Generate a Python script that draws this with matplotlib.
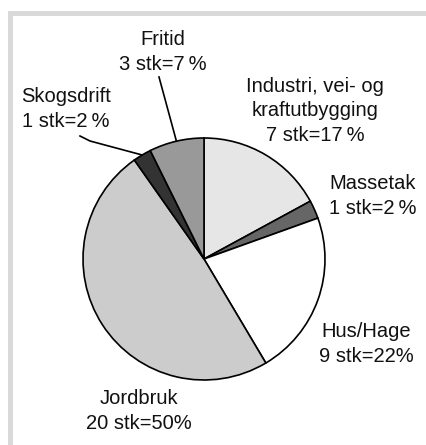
import numpy as np
import matplotlib.pyplot as plt
from matplotlib.patches import Rectangle

plt.rcParams['font.family'] = ['Liberation Sans', 'DejaVu Sans']

# Data: antall (stk) per kategori, i rekkefølge med klokka fra toppen
kategorier = ['Industri, vei- og\nkraftutbygging', 'Massetak', 'Hus/Hage',
              'Jordbruk', 'Skogsdrift', 'Fritid']
antall = [7, 1, 9, 20, 1, 3]
prosent_tekst = ['17\u2009%', '2\u2009%', '22%', '50%', '2\u2009%', '7\u2009%']
farger = ['#e6e6e6', '#666666', '#ffffff', '#cccccc', '#333333', '#999999']

# Figur i pikselkoordinater (427x445)
W, H = 427, 445
fig = plt.figure(figsize=(W / 100, H / 100), dpi=100)
ax = fig.add_axes([0, 0, 1, 1])

senter = (204, H - 259)
radius = 121

wedges, _ = ax.pie(antall, startangle=90, counterclock=False, colors=farger,
                   center=senter, radius=radius,
                   wedgeprops=dict(edgecolor='black', linewidth=1.2))

ax.set_xlim(0, W)
ax.set_ylim(0, H)
ax.set_aspect('equal')
ax.axis('off')

# Grå ramme (topp og venstre)
ramme = '#d9d9d9'
ax.add_patch(Rectangle((8, H - 16), W - 8, 5, color=ramme, lw=0, zorder=0))
ax.add_patch(Rectangle((8, 0), 5, H - 11, color=ramme, lw=0, zorder=0))

# Etikettposisjoner (sentrum av tekstblokk, piksler fra topp)
etikett_pos = [(315, 111), (373, 196), (366, 344), (139, 411), (66, 109), (163, 52)]

for kat, n, p, (x, y) in zip(kategorier, antall, prosent_tekst, etikett_pos):
    ax.text(x, H - y, f'{kat}\n{n} stk={p}', ha='center', va='center',
            fontsize=14.5, linespacing=1.35, color='#111111')

# Ledelinjer for Fritid og Skogsdrift
def kantpunkt(w):
    vinkel = np.deg2rad((w.theta1 + w.theta2) / 2)
    return senter[0] + radius * np.cos(vinkel), senter[1] + radius * np.sin(vinkel)

fx, fy = kantpunkt(wedges[5])
ax.plot([159, fx], [H - 77, fy], color='black', lw=1.2)
sx, sy = kantpunkt(wedges[4])
ax.plot([80, 90, sx], [H - 136, H - 141, sy], color='black', lw=1.2)

plt.savefig('out.png', dpi=100)
